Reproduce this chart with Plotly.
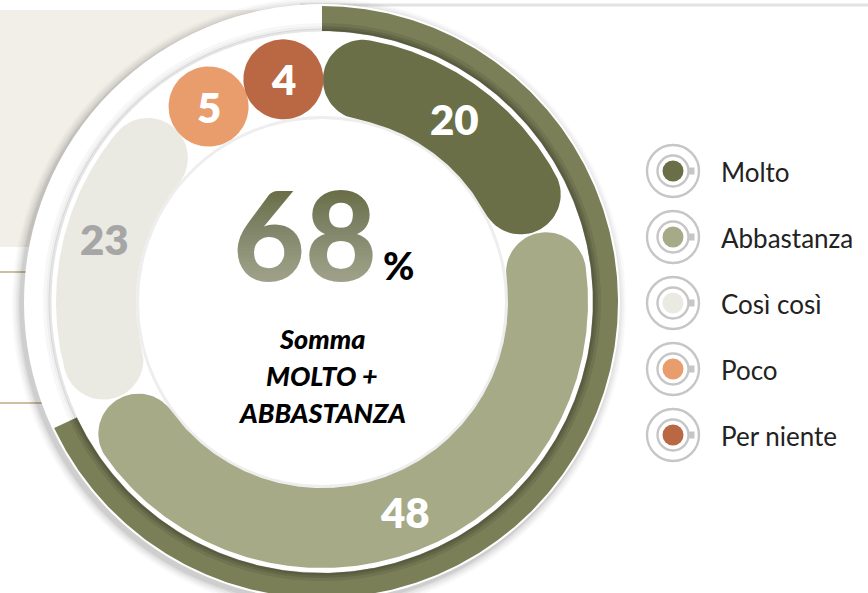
import numpy as np
import plotly.graph_objects as go

# ---------------- data ----------------
categories = ["Molto", "Abbastanza", "Così così", "Poco", "Per niente"]
values = [20, 48, 23, 5, 4]
colors = ["#6A6F48", "#A6AA87", "#EAEAE2", "#E99D6C", "#B96843"]
label_colors = ["#FFFFFF", "#FFFFFF", "#A6A6A6", "#FFFFFF", "#FFFFFF"]
summary_categories = ["Molto", "Abbastanza"]
summary_lines = ["Somma", "MOLTO +", "ABBASTANZA"]

# ---------------- geometry / style ----------------
W, H = 868, 593
CX, CY = 322, 302            # centre of the dial in page pixels
R_BASE = 298                 # white disc
R_RING_OUT, R_RING_IN = 296, 271
R_C, HALF = 226, 40          # centre line and half thickness of the segments
R_INNER = 183                # inner white disc
RING_COLOR = "#7A7F58"
FONT = "Lato"


def X(px):
    return px - CX


def Y(py):
    return CY - py


def unit(deg):
    t = np.radians(deg)
    return np.array([np.sin(t), np.cos(t)])


def tang(deg):
    t = np.radians(deg)
    return np.array([np.cos(t), -np.sin(t)])


def rounded_arc(a, b, rc, h):
    n = max(2, int(abs(b - a) * 2) + 2)
    th = np.linspace(a, b, n)
    pts = [(rc + h) * unit(t) for t in th]
    cb = rc * unit(b)
    for p in np.linspace(0, np.pi, 40):
        pts.append(cb + h * (np.cos(p) * unit(b) + np.sin(p) * tang(b)))
    pts += [(rc - h) * unit(t) for t in th[::-1]]
    ca = rc * unit(a)
    for p in np.linspace(np.pi, 0, 40):
        pts.append(ca + h * (np.cos(p) * unit(a) - np.sin(p) * tang(a)))
    pts = np.array(pts)
    return pts[:, 0], pts[:, 1]


def sector(a, b, r0, r1):
    th = np.linspace(a, b, max(2, int(abs(b - a) * 2) + 2))
    outer = np.array([r1 * unit(t) for t in th])
    inner = np.array([r0 * unit(t) for t in th[::-1]])
    pts = np.vstack([outer, inner, outer[:1]])
    return pts[:, 0], pts[:, 1]


total = float(sum(values))
bounds = np.concatenate([[0], np.cumsum(values)]) / total * 360.0
summary_value = sum(v for c, v in zip(categories, values) if c in summary_categories)

# cap centres of each rounded segment
d = np.degrees(2 * HALF / R_C)
inset = d / 2 + 0.3
caps = []
for i in range(len(values)):
    a, b = bounds[i] + inset, bounds[i + 1] - inset
    if b < a:
        a = b = (bounds[i] + bounds[i + 1]) / 2
    caps.append([a, b])
next_a = caps[0][0] + 360
for i in range(len(values) - 1, 0, -1):
    lim = next_a - d
    if caps[i][1] > lim:
        caps[i][1] = lim
    if caps[i][0] > caps[i][1]:
        caps[i][0] = caps[i][1]
    next_a = caps[i][0]

fig = go.Figure()

# ---------------- outer ring (sum of first two categories) ----------------
ring_end = summary_value / total * 360.0
xr, yr = sector(0, ring_end, R_RING_IN, R_RING_OUT)
fig.add_trace(go.Scatter(x=xr, y=yr, fill="toself", fillcolor=RING_COLOR, mode="lines",
                         line=dict(width=0), hoverinfo="skip", showlegend=False))
for r1, op in [(R_RING_IN + 8, 0.12), (R_RING_IN + 5, 0.15), (R_RING_IN + 2.5, 0.18)]:
    xr, yr = sector(0, ring_end, R_RING_IN, r1)
    fig.add_trace(go.Scatter(x=xr, y=yr, fill="toself", fillcolor=f"rgba(40,42,25,{op})",
                             mode="lines", line=dict(width=0), hoverinfo="skip", showlegend=False))

# ---------------- rounded segments ----------------
for i, cat in enumerate(categories):
    a, b = caps[i]
    xs, ys = rounded_arc(a, b, R_C, HALF)
    fig.add_trace(go.Scatter(x=xs, y=ys, fill="toself", fillcolor=colors[i], mode="lines",
                             line=dict(width=0), name=cat, hoverinfo="skip", showlegend=False))

# ---------------- big centre number (scatter text, gradient overlaid) ----------------
fig.add_trace(go.Scatter(x=[X(305)], y=[Y(250)], mode="text", text=[f"{summary_value}"],
                         textposition="middle center",
                         textfont=dict(family=FONT, size=124, color="#666C44", weight=900),
                         hoverinfo="skip", showlegend=False))

# ---------------- legend (cup icons) ----------------
leg_x = 673
leg_y = [171 + 66 * i for i in range(len(categories))]
lx = [X(leg_x)] * len(categories)
ly = [Y(v) for v in leg_y]
fig.add_trace(go.Scatter(x=lx, y=ly, mode="markers", hoverinfo="skip", showlegend=False,
                         marker=dict(size=52, color="white", line=dict(width=2.4, color="#C6C6C6"))))
fig.add_trace(go.Scatter(x=[X(leg_x + 18)] * len(categories), y=ly, mode="markers",
                         hoverinfo="skip", showlegend=False,
                         marker=dict(size=7, symbol="square", color="#C6C6C6", line=dict(width=0))))
fig.add_trace(go.Scatter(x=lx, y=ly, mode="markers", hoverinfo="skip", showlegend=False,
                         marker=dict(size=31, color="white", line=dict(width=2.4, color="#C6C6C6"))))
fig.add_trace(go.Scatter(x=lx, y=ly, mode="markers", hoverinfo="skip", showlegend=False,
                         marker=dict(size=21, color=colors, line=dict(width=0))))

# ---------------- shapes ----------------
shapes = []
# background decorations
shapes.append(dict(type="rect", layer="below", x0=X(0), x1=X(330), y0=Y(247), y1=Y(10),
                   fillcolor="#F2EFE9", line=dict(width=0)))
for yy in (272, 403):
    shapes.append(dict(type="line", layer="below", x0=X(0), x1=X(80), y0=Y(yy), y1=Y(yy),
                       line=dict(color="#CDBFA3", width=2)))
shapes.append(dict(type="line", layer="below", x0=X(300), x1=X(868), y0=Y(5), y1=Y(5),
                   line=dict(color="#E2E2E2", width=3)))
# drop shadow of white disc
for k, op in [(9, 0.025), (7, 0.03), (5, 0.04), (3, 0.05), (1.5, 0.06)]:
    shapes.append(dict(type="circle", layer="below", x0=-R_BASE - k - 3, x1=R_BASE + k - 3,
                       y0=-R_BASE - k - 3, y1=R_BASE + k - 3,
                       fillcolor=f"rgba(0,0,0,{op})", line=dict(width=0)))
shapes.append(dict(type="circle", layer="below", x0=-R_BASE, x1=R_BASE, y0=-R_BASE, y1=R_BASE,
                   fillcolor="white", line=dict(width=0)))
# groove shadow of the ring track
for rr, w, op in [(R_RING_IN + 1, 3, 0.10), (R_RING_IN + 3, 3, 0.06), (R_RING_IN + 6, 4, 0.03)]:
    shapes.append(dict(type="circle", layer="below", x0=-rr, x1=rr, y0=-rr, y1=rr,
                       fillcolor="rgba(0,0,0,0)", line=dict(width=w, color=f"rgba(0,0,0,{op})")))
# inner disc
shapes.append(dict(type="circle", layer="below", x0=-R_INNER - 3, x1=R_INNER + 3,
                   y0=-R_INNER - 3, y1=R_INNER + 3, fillcolor="#EEEEEE", line=dict(width=0)))
shapes.append(dict(type="circle", layer="below", x0=-R_INNER, x1=R_INNER, y0=-R_INNER, y1=R_INNER,
                   fillcolor="white", line=dict(width=0)))
# vertical gradient over the big number (cumulative overlapping strips)
g_top, g_bot, n_strips = 186, 284, 30
target = 0.42
a_step = 1 - (1 - target) ** (1.0 / n_strips)
edges = np.linspace(g_top, g_bot, n_strips + 1)
for j in range(n_strips):
    shapes.append(dict(type="rect", layer="above", x0=X(226), x1=X(378),
                       y0=Y(g_bot), y1=Y(edges[j + 1]),
                       fillcolor=f"rgba(255,255,255,{a_step:.4f})", line=dict(width=0)))

# ---------------- annotations ----------------
ann = []
for i, cat in enumerate(categories):
    a, b = caps[i]
    ang = a if a == b else (bounds[i] + bounds[i + 1]) / 2
    p = R_C * unit(ang)
    ann.append(dict(x=p[0], y=p[1], text=f"{values[i]}", showarrow=False,
                    xanchor="center", yanchor="middle",
                    font=dict(family=FONT, size=42, color=label_colors[i], weight=800)))
ann.append(dict(x=X(398), y=Y(265), text="%", showarrow=False, xanchor="center",
                yanchor="middle", font=dict(family=FONT, size=38, color="#000000", weight=900)))
for k, line in enumerate(summary_lines):
    ann.append(dict(x=X(322), y=Y(338 + 37 * k), text=f"<i>{line}</i>", showarrow=False,
                    xanchor="center", yanchor="middle",
                    font=dict(family=FONT, size=27, color="#000000", weight=900)))
for cat, yy in zip(categories, leg_y):
    ann.append(dict(x=X(719), y=Y(yy + 1), text=cat, showarrow=False, xanchor="left",
                    yanchor="middle", font=dict(family=FONT, size=26, color="#222222")))

fig.update_layout(
    width=W, height=H, margin=dict(l=0, r=0, t=0, b=0),
    paper_bgcolor="white", plot_bgcolor="white",
    xaxis=dict(range=[X(0), X(W)], visible=False, fixedrange=True),
    yaxis=dict(range=[Y(H), Y(0)], visible=False, fixedrange=True),
    shapes=shapes, annotations=ann, showlegend=False,
)

fig.write_html("out.html", config={"displayModeBar": False},
               post_script="document.body.style.margin='0';document.body.style.overflow='hidden';")
